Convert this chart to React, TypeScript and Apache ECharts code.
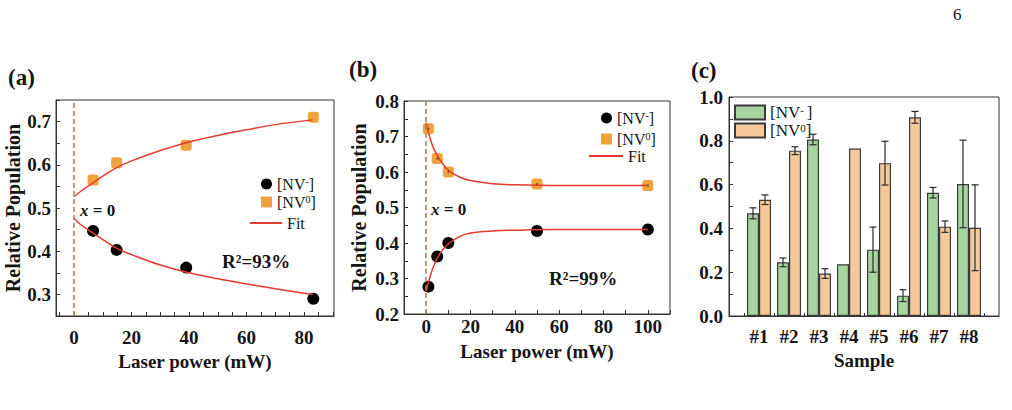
import React, { useEffect, useRef } from 'react';
import * as echarts from 'echarts';

const SERIF = "'Liberation Serif', 'Times New Roman', 'DejaVu Serif', serif";

// ---------- Panel (a) ----------
const aPower = [6.6, 14.8, 39.0, 83.2];
const aNVminus = [0.447, 0.403, 0.362, 0.29];
const aNV0 = [0.565, 0.605, 0.645, 0.71];
const aFitPower = [0, 2, 5, 10, 15, 20, 30, 40, 50, 60, 70, 83];
const aFitNV0 = [0.526, 0.537, 0.551, 0.574, 0.594, 0.609, 0.633, 0.653, 0.668, 0.681, 0.693, 0.704];
const aFitNVminus = [0.476, 0.463, 0.449, 0.427, 0.406, 0.392, 0.368, 0.350, 0.336, 0.324, 0.313, 0.300];
const aXLabels = [0, 20, 40, 60, 80];
const aXTicks = [-5, 0, 5, 10, 15, 20, 25, 30, 35, 40, 45, 50, 55, 60, 65, 70, 75, 80, 85, 90];
const aYLabels = [0.3, 0.4, 0.5, 0.6, 0.7];

// ---------- Panel (b) ----------
const bPower = [1, 5, 10, 50, 100];
const bNVminus = [0.277, 0.362, 0.4, 0.434, 0.438];
const bNV0 = [0.722, 0.638, 0.6, 0.566, 0.562];
const bFitPower = [0, 1, 2, 3, 5, 7, 10, 15, 20, 30, 40, 60, 80, 100];
const bFitNV0 = [0.738, 0.712, 0.691, 0.672, 0.647, 0.627, 0.605, 0.586, 0.576, 0.567, 0.564, 0.562, 0.562, 0.562];
const bFitNVminus = [0.264, 0.289, 0.31, 0.329, 0.357, 0.377, 0.398, 0.418, 0.428, 0.434, 0.436, 0.438, 0.438, 0.438];
const bXLabels = [0, 20, 40, 60, 80, 100];
const bYLabels = [0.2, 0.3, 0.4, 0.5, 0.6, 0.7, 0.8];

// ---------- Panel (c) ----------
const samples = ['#1', '#2', '#3', '#4', '#5', '#6', '#7', '#8'];
const cNVminus = [0.469, 0.245, 0.806, 0.236, 0.303, 0.093, 0.563, 0.603];
const cNVminusErr = [0.025, 0.02, 0.024, 0, 0.103, 0.027, 0.024, 0.2];
const cNV0 = [0.531, 0.755, 0.194, 0.765, 0.698, 0.907, 0.408, 0.403];
const cNV0Err = [0.022, 0.018, 0.022, 0, 0.1, 0.027, 0.026, 0.196];
const cYLabels = [0, 0.2, 0.4, 0.6, 0.8, 1.0];
const cBoundaryTicks = [0.5, 1.5, 2.5, 3.5, 4.5, 5.5, 6.5, 7.5, 8.5];

// legend labels with superscripts as rich text
const NV_MINUS = '{b|[NV}{s|-}{b|]}';
const NV_MINUS_C = '{b|[NV}{s|- }{b|]}';
const NV_ZERO = '{b|[NV}{s|0}{b|]}';
const legendText: Record<string, string> = {
  aMinus: NV_MINUS,
  aZero: NV_ZERO,
  aFit: '{b|Fit}',
  bMinus: NV_MINUS,
  bZero: NV_ZERO,
  bFit: '{b|Fit}',
  cMinus: NV_MINUS_C,
  cZero: NV_ZERO,
};

const C_BLACK = '#000000';
const C_ORANGE = '#f0a23e';
const C_RED = '#e53a2f';
const C_DASH = '#b5834f';
const C_GREEN = '#a7d4a0';
const C_PEACH = '#f6c99b';
const C_AXIS = '#333333';
const C_TEXT = '#151515';

const zip = (xs: number[], ys: number[]) => xs.map((x, i) => [x, ys[i]]);

const inList = (list: number[]) => (v: number) => {
  const hit = list.find((t) => Math.abs(t - v) < 1e-6);
  return hit === undefined ? '' : hit.toFixed(1);
};

const tickLabel = {
  fontFamily: SERIF,
  fontWeight: 'bold' as const,
  fontSize: 19,
  color: C_TEXT,
};
const axisName = {
  fontFamily: SERIF,
  fontWeight: 'bold' as const,
  fontSize: 19,
  color: C_TEXT,
};
const axisLine = { show: true, onZero: false, lineStyle: { color: C_AXIS, width: 1 } };
const inTick = { show: true, inside: true, length: 4, lineStyle: { color: C_AXIS, width: 1 } };

const makeLegendText = (size: number) => ({
  fontFamily: SERIF,
  fontSize: size,
  color: C_TEXT,
  rich: {
    b: { fontFamily: SERIF, fontSize: size, color: C_TEXT },
    s: { fontFamily: SERIF, fontSize: Math.round(size * 0.62), color: C_TEXT, verticalAlign: 'top' },
  },
});

const dashLine = {
  silent: true,
  symbol: 'none',
  label: { show: false },
  lineStyle: { color: C_DASH, type: [5, 3], width: 1.6 },
  data: [{ xAxis: 0 }],
};

const errorRender = (offset: number) => (params: any, api: any) => {
  const cat = api.value(0);
  const val = api.value(1);
  const err = api.value(2);
  if (!err) return null;
  const top = api.coord([cat, val + err]);
  const bot = api.coord([cat, val - err]);
  const x = top[0] + offset;
  const cap = 3.5;
  const st = { stroke: '#2a2a2a', lineWidth: 1.2 };
  return {
    type: 'group',
    children: [
      { type: 'line', shape: { x1: x, y1: top[1], x2: x, y2: bot[1] }, style: st },
      { type: 'line', shape: { x1: x - cap, y1: top[1], x2: x + cap, y2: top[1] }, style: st },
      { type: 'line', shape: { x1: x - cap, y1: bot[1], x2: x + cap, y2: bot[1] }, style: st },
    ],
  };
};

const txt = (left: number, top: number, text: string, size: number, weight: string = 'bold', extra: any = {}) => ({
  type: 'text',
  left,
  top,
  style: { text, fontFamily: SERIF, fontSize: size, fontWeight: weight, fill: C_TEXT, ...extra },
});

const xEqZero = (left: number, top: number) => ({
  type: 'text',
  left,
  top,
  style: {
    text: '{i|x} = 0',
    fontFamily: SERIF,
    fontSize: 17,
    fontWeight: 'bold',
    fill: C_TEXT,
    rich: { i: { fontFamily: SERIF, fontSize: 17, fontStyle: 'italic', fontWeight: 'bold', fill: C_TEXT } },
  },
});

const singleLegend = (name: string, icon: string, left: number, top: number, w: number, h: number, size = 16) => ({
  data: [{ name, icon }],
  left,
  top,
  padding: 0,
  itemWidth: w,
  itemHeight: h,
  selectedMode: false,
  formatter: (n: string) => legendText[n],
  textStyle: makeLegendText(size),
});

export default function App() {
  const ref = useRef<HTMLDivElement>(null);

  useEffect(() => {
    if (!ref.current) return;
    const chart = echarts.init(ref.current, null, { renderer: 'svg' });

    const option: any = {
      animation: false,
      backgroundColor: '#ffffff',
      grid: [
        { left: 56, top: 100, width: 278, height: 216, show: true, borderColor: C_AXIS, borderWidth: 1 },
        { left: 404, top: 101, width: 266, height: 213, show: true, borderColor: C_AXIS, borderWidth: 1 },
        { left: 729, top: 97, width: 270, height: 219, show: true, borderColor: C_AXIS, borderWidth: 1 },
      ],
      xAxis: [
        {
          gridIndex: 0,
          type: 'value',
          min: -6.3,
          max: 90.4,
          axisLine,
          axisTick: { ...inTick, customValues: aXTicks },
          axisLabel: { ...tickLabel, margin: 12, customValues: aXLabels },
          splitLine: { show: false },
          name: 'Laser power (mW)',
          nameLocation: 'middle',
          nameGap: 29,
          nameTextStyle: axisName,
        },
        {
          gridIndex: 1,
          type: 'value',
          min: -10,
          max: 110,
          interval: 10,
          axisLine,
          axisTick: inTick,
          axisLabel: {
            ...tickLabel,
            margin: 3,
            formatter: (v: number) => (bXLabels.includes(Math.round(v)) ? String(Math.round(v)) : ''),
          },
          splitLine: { show: false },
          name: 'Laser power (mW)',
          nameLocation: 'middle',
          nameGap: 28,
          nameTextStyle: axisName,
        },
        {
          gridIndex: 2,
          type: 'category',
          data: ['', ...samples, ''],
          boundaryGap: false,
          axisLine,
          axisTick: { show: false },
          axisLabel: { ...tickLabel, interval: 0, margin: 11 },
          splitLine: { show: false },
          name: 'Sample',
          nameLocation: 'middle',
          nameGap: 34,
          nameTextStyle: axisName,
        },
        {
          gridIndex: 2,
          type: 'value',
          min: 0,
          max: 9,
          position: 'bottom',
          axisLine: { show: false },
          axisTick: { show: true, inside: true, length: 3, lineStyle: { color: C_AXIS }, customValues: cBoundaryTicks },
          axisLabel: { show: false },
          splitLine: { show: false },
        },
      ],
      yAxis: [
        {
          gridIndex: 0,
          type: 'value',
          min: 0.25,
          max: 0.75,
          interval: 0.05,
          axisLine,
          axisTick: inTick,
          axisLabel: { ...tickLabel, margin: 5, formatter: inList(aYLabels) },
          splitLine: { show: false },
          name: 'Relative Population',
          nameLocation: 'middle',
          nameGap: 33,
          nameTextStyle: { ...axisName, fontSize: 20 },
        },
        {
          gridIndex: 1,
          type: 'value',
          min: 0.2,
          max: 0.8,
          interval: 0.05,
          axisLine,
          axisTick: inTick,
          axisLabel: { ...tickLabel, margin: 5, formatter: inList(bYLabels) },
          splitLine: { show: false },
          name: 'Relative Population',
          nameLocation: 'middle',
          nameGap: 35,
          nameTextStyle: { ...axisName, fontSize: 20 },
        },
        {
          gridIndex: 2,
          type: 'value',
          min: 0,
          max: 1,
          interval: 0.1,
          axisLine,
          axisTick: inTick,
          axisLabel: { ...tickLabel, margin: 6, formatter: inList(cYLabels) },
          splitLine: { show: false },
        },
      ],
      legend: [
        singleLegend('aMinus', 'circle', 261, 176, 11, 11),
        singleLegend('aZero', 'rect', 261, 194, 11, 11),
        singleLegend('aFit', 'rect', 250, 215, 32, 2),
        singleLegend('bMinus', 'circle', 601, 110, 11, 11),
        singleLegend('bZero', 'rect', 601, 131, 11, 11),
        singleLegend('bFit', 'rect', 589, 148, 34, 2),
        singleLegend('cMinus', 'rect', 734, 104, 30, 14, 17),
        singleLegend('cZero', 'rect', 734, 122, 30, 14, 17),
      ],
      graphic: [
        txt(8, 66, '(a)', 23),
        txt(349, 58, '(b)', 23),
        txt(691, 59, '(c)', 23),
        txt(953, 6, '6', 17, 'normal'),
        xEqZero(80, 202),
        xEqZero(431, 201),
        txt(222, 252, 'R²=93%', 19),
        txt(549, 269, 'R²=99%', 19),
      ],
      series: [
        // (a)
        {
          type: 'scatter', name: 'aMinus', xAxisIndex: 0, yAxisIndex: 0,
          data: zip(aPower, aNVminus), symbol: 'circle', symbolSize: 12,
          itemStyle: { color: C_BLACK, opacity: 1 }, z: 3,
        },
        {
          type: 'scatter', name: 'aZero', xAxisIndex: 0, yAxisIndex: 0,
          data: zip(aPower, aNV0), symbol: 'roundRect', symbolSize: 11,
          itemStyle: { color: C_ORANGE, opacity: 1 }, z: 3,
        },
        {
          type: 'line', name: 'aFit', xAxisIndex: 0, yAxisIndex: 0,
          data: zip(aFitPower, aFitNV0), smooth: 0.4, symbol: 'none',
          lineStyle: { color: C_RED, width: 1.5 }, itemStyle: { color: C_RED }, z: 4,
          markLine: dashLine,
        },
        {
          type: 'line', name: 'aFit', xAxisIndex: 0, yAxisIndex: 0,
          data: zip(aFitPower, aFitNVminus), smooth: 0.4, symbol: 'none',
          lineStyle: { color: C_RED, width: 1.5 }, itemStyle: { color: C_RED }, z: 4,
        },
        // (b)
        {
          type: 'scatter', name: 'bMinus', xAxisIndex: 1, yAxisIndex: 1,
          data: zip(bPower, bNVminus), symbol: 'circle', symbolSize: 12,
          itemStyle: { color: C_BLACK, opacity: 1 }, z: 3,
        },
        {
          type: 'scatter', name: 'bZero', xAxisIndex: 1, yAxisIndex: 1,
          data: zip(bPower, bNV0), symbol: 'roundRect', symbolSize: 11,
          itemStyle: { color: C_ORANGE, opacity: 1 }, z: 3,
        },
        {
          type: 'scatter', name: 'bZeroDot', xAxisIndex: 1, yAxisIndex: 1,
          data: zip(bPower, bNV0), symbol: 'circle', symbolSize: 2, silent: true,
          itemStyle: { color: '#7a4a14', opacity: 1 }, z: 3,
        },
        {
          type: 'line', name: 'bFit', xAxisIndex: 1, yAxisIndex: 1,
          data: zip(bFitPower, bFitNV0), smooth: 0.4, symbol: 'none',
          lineStyle: { color: C_RED, width: 1.5 }, itemStyle: { color: C_RED }, z: 4,
          markLine: dashLine,
        },
        {
          type: 'line', name: 'bFit', xAxisIndex: 1, yAxisIndex: 1,
          data: zip(bFitPower, bFitNVminus), smooth: 0.4, symbol: 'none',
          lineStyle: { color: C_RED, width: 1.5 }, itemStyle: { color: C_RED }, z: 4,
        },
        // (c)
        {
          type: 'bar', name: 'cMinus', xAxisIndex: 2, yAxisIndex: 2,
          data: cNVminus.map((v, i) => [i + 1, v]), barWidth: 12, barGap: '0%',
          itemStyle: { color: C_GREEN, borderColor: '#3a3a3a', borderWidth: 1.2 },
        },
        {
          type: 'bar', name: 'cZero', xAxisIndex: 2, yAxisIndex: 2,
          data: cNV0.map((v, i) => [i + 1, v]), barWidth: 12, barGap: '0%',
          itemStyle: { color: C_PEACH, borderColor: '#3a3a3a', borderWidth: 1.2 },
        },
        {
          type: 'custom', name: 'cMinusErr', xAxisIndex: 2, yAxisIndex: 2,
          data: cNVminus.map((v, i) => [i + 1, v, cNVminusErr[i]]),
          encode: { x: 0, y: 1 }, renderItem: errorRender(-6), z: 5, silent: true,
        },
        {
          type: 'custom', name: 'cZeroErr', xAxisIndex: 2, yAxisIndex: 2,
          data: cNV0.map((v, i) => [i + 1, v, cNV0Err[i]]),
          encode: { x: 0, y: 1 }, renderItem: errorRender(6), z: 5, silent: true,
        },
      ],
    };

    chart.setOption(option);
    return () => chart.dispose();
  }, []);

  return (
    <div
      ref={ref}
      style={{ position: 'absolute', left: 0, top: 0, width: 1012, height: 410, background: '#fff' }}
    />
  );
}
